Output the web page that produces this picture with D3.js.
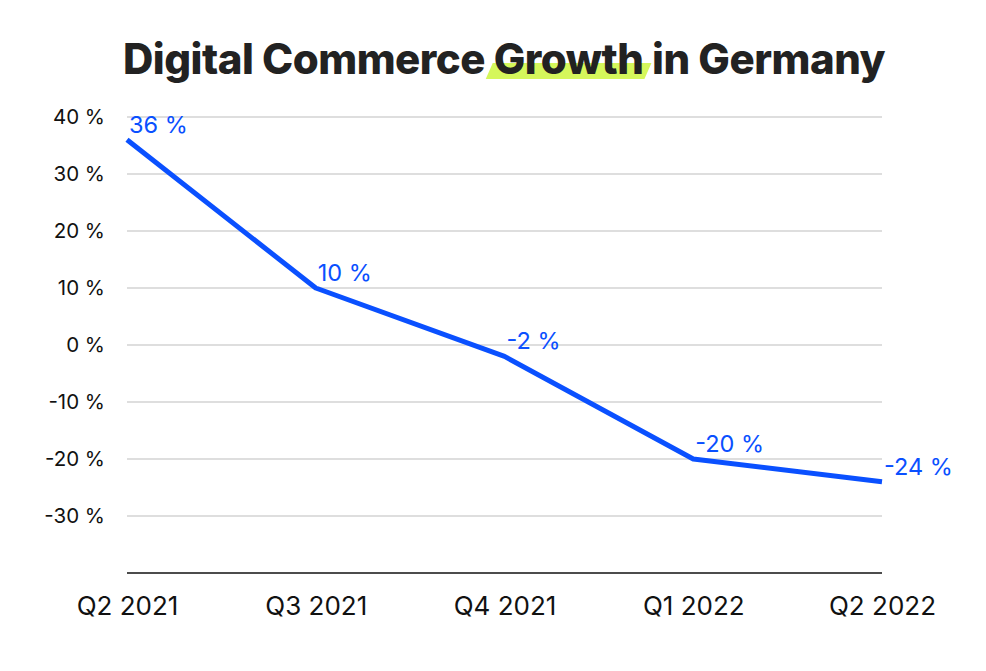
<!DOCTYPE html>
<html>
<head>
<meta charset="utf-8">
<script src="https://cdn.jsdelivr.net/npm/d3@7"></script>
<style>
  body { margin: 0; background: #fff; }
  text { font-family: Inter, "Noto Sans", sans-serif; }
</style>
</head>
<body>
<div id="chart"></div>
<script>
// data
const quarters = ["Q2 2021", "Q3 2021", "Q4 2021", "Q1 2022", "Q2 2022"];
const growth = [36, 10, -2, -20, -24];
const yTicks = [-30, -20, -10, 0, 10, 20, 30, 40];

const width = 986, height = 671;
const margin = {top: 117, right: 104, bottom: 98, left: 127};

const svg = d3.select("#chart").append("svg")
    .attr("width", width)
    .attr("height", height);

// scales
const x = d3.scalePoint()
    .domain(quarters)
    .range([margin.left, width - margin.right]);

const y = d3.scaleLinear()
    .domain([-40, 40])
    .range([height - margin.bottom, margin.top]);

// title, with the green marker behind "Growth"
const titleG = svg.append("g");
const highlight = titleG.append("path").attr("fill", "#d5f75b");
const title = titleG.append("text")
    .attr("x", 504)
    .attr("y", 74)
    .attr("text-anchor", "middle")
    .attr("font-size", 42)
    .attr("font-weight", 800)
    .attr("letter-spacing", -0.5)
    .attr("fill", "#222");
title.append("tspan").text("Digital Commerce ");
title.append("tspan").text("Growth");
title.append("tspan").text(" in Germany");

// place the marker using the rendered text
const node = title.node();
const start = "Digital Commerce ".length;
const first = node.getExtentOfChar(start);
const last = node.getExtentOfChar(start + 5);
const hx0 = first.x - 8, hx1 = last.x + last.width + 8;
highlight.attr("d", `M${hx0 + 7},63 L${hx1},63 L${hx1 - 7},79 L${hx0},79 Z`);

// gridlines
svg.append("g")
    .selectAll("line")
    .data(yTicks)
    .join("line")
    .attr("x1", margin.left)
    .attr("x2", width - margin.right)
    .attr("y1", d => y(d))
    .attr("y2", d => y(d))
    .attr("stroke", "#bdbdbd")
    .attr("stroke-width", 1);

// y axis labels
const yAxis = d3.axisLeft(y)
    .tickValues(yTicks)
    .tickSize(0)
    .tickPadding(22)
    .tickFormat(d => d + " %");

svg.append("g")
    .attr("transform", `translate(${margin.left},0)`)
    .call(yAxis)
    .call(g => g.select(".domain").remove())
    .call(g => g.selectAll("text")
        .attr("font-size", 20.5)
        .attr("fill", "#111"));

// x axis
const xAxis = d3.axisBottom(x)
    .tickSize(0)
    .tickPadding(24);

svg.append("g")
    .attr("transform", `translate(0,${y(-40)})`)
    .call(xAxis)
    .call(g => g.select(".domain")
        .attr("d", `M${margin.left},0H${width - margin.right}`)
        .attr("stroke", "#111")
        .attr("stroke-width", 1.5))
    .call(g => g.selectAll("text")
        .attr("font-size", 26)
        .attr("fill", "#111"));

// line
const data = quarters.map((q, i) => ({q: q, v: growth[i]}));

svg.append("path")
    .datum(data)
    .attr("fill", "none")
    .attr("stroke", "#0a50ff")
    .attr("stroke-width", 5)
    .attr("stroke-linejoin", "round")
    .attr("d", d3.line().x(d => x(d.q)).y(d => y(d.v)));

// value labels
svg.append("g")
    .selectAll("text")
    .data(data)
    .join("text")
    .attr("x", d => x(d.q) + 2)
    .attr("y", d => y(d.v) - 7)
    .attr("font-size", 23.5)
    .attr("fill", "#0a50ff")
    .text(d => d.v + " %");
</script>
</body>
</html>
